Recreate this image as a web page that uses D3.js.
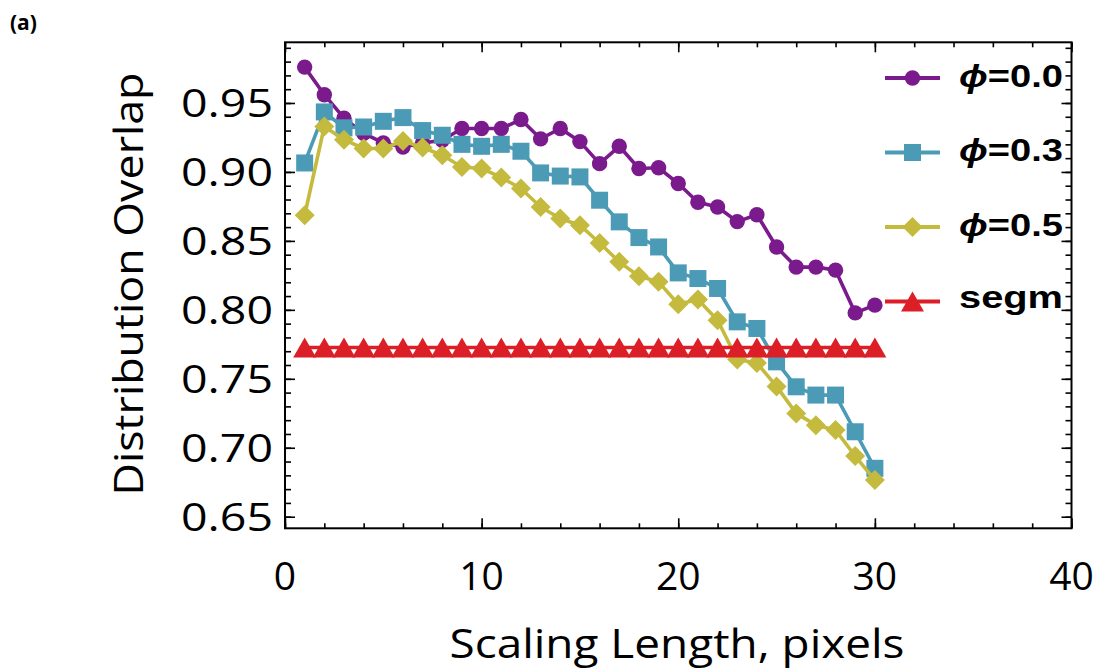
<!DOCTYPE html>
<html><head><meta charset="utf-8">
<script src="https://cdn.jsdelivr.net/npm/d3@7"></script>
<style>body{margin:0;background:#fff}</style>
</head><body><svg id="c" width="1115" height="670"></svg>
<script>
const scalingLength = [1,2,3,4,5,6,7,8,9,10,11,12,13,14,15,16,17,18,19,20,21,22,23,24,25,26,27,28,29,30];
const phi00 = [0.976,0.956,0.939,0.928,0.921,0.918,0.921,0.923,0.9315,0.9315,0.9315,0.938,0.924,0.9315,0.922,0.906,0.9186,0.9025,0.903,0.8916,0.878,0.8746,0.864,0.869,0.8456,0.831,0.831,0.8288,0.7978,0.8034];
const phi03 = [0.9065,0.9435,0.932,0.9326,0.9367,0.9394,0.930,0.9266,0.920,0.9186,0.920,0.915,0.8993,0.897,0.8964,0.8795,0.8638,0.8524,0.8456,0.8268,0.8227,0.8155,0.7913,0.7865,0.7623,0.7442,0.7382,0.7382,0.7116,0.6851];
const phi05 = [0.8686,0.933,0.9234,0.917,0.917,0.9225,0.9177,0.9121,0.9036,0.9025,0.896,0.888,0.8746,0.8662,0.8614,0.8485,0.8348,0.8244,0.8203,0.8041,0.8075,0.7925,0.764,0.7615,0.7445,0.7249,0.7164,0.7128,0.694,0.6766];
const segm = [0.7727,0.7727,0.7727,0.7727,0.7727,0.7727,0.7727,0.7727,0.7727,0.7727,0.7727,0.7727,0.7727,0.7727,0.7727,0.7727,0.7727,0.7727,0.7727,0.7727,0.7727,0.7727,0.7727,0.7727,0.7727,0.7727,0.7727,0.7727,0.7727,0.7727];
const seriesNames = ["0.0","0.3","0.5","segm"];
const xMajorTicks = [0,10,20,30,40];
const xMinorTicks = [0,2,4,6,8,10,12,14,16,18,20,22,24,26,28,30,32,34,36,38,40];
const yMajorTicks = [0.65,0.70,0.75,0.80,0.85,0.90,0.95];
const yMinorTicks = [0.65,0.66,0.67,0.68,0.69,0.70,0.71,0.72,0.73,0.74,0.75,0.76,0.77,0.78,0.79,0.80,0.81,0.82,0.83,0.84,0.85,0.86,0.87,0.88,0.89,0.90,0.91,0.92,0.93,0.94,0.95,0.96,0.97,0.98,0.99];
const yTickLabels = ["0.65","0.70","0.75","0.80","0.85","0.90","0.95"];
const xTickLabels = ["0","10","20","30","40"];

const colors = ["#7b1a8c","#4c9bb6","#c4bb3e","#dc1f26"];
const shapes = ["circle","square","diamond","triangle"];

const svg = d3.select("#c");
const L=285, R=1071.5, T=42.3, B=528.3;
const x = d3.scaleLinear().domain([0,40]).range([L,R]);
const y = d3.scaleLinear().domain([0.6416,0.994]).range([B,T]);

function markerPath(shape){
  switch(shape){
    case "circle": return d3.symbol(d3.symbolCircle, Math.PI*7.7*7.7)();
    case "square": return "M-8.5,-8.5H8.5V8.5H-8.5Z";
    case "diamond": return "M0,-10L10,0L0,10L-10,0Z";
    case "triangle": return "M0,-10L11.5,10L-11.5,10Z";
  }
}

// series
const allSeries = [phi00, phi03, phi05, segm];
const line = d3.line().x((d,i)=>x(scalingLength[i])).y(d=>y(d));
allSeries.forEach((s,k)=>{
  const g = svg.append("g");
  g.append("path").attr("d", line(s)).attr("fill","none")
   .attr("stroke", colors[k]).attr("stroke-width", 3.6).attr("stroke-linejoin","round");
  g.selectAll("path.m").data(s).join("path").attr("class","m")
   .attr("d", markerPath(shapes[k]))
   .attr("transform",(d,i)=>`translate(${x(scalingLength[i])},${y(d)})`)
   .attr("fill", colors[k]);
});

// frame
svg.append("rect").attr("x",L).attr("y",T).attr("width",R-L).attr("height",B-T)
  .attr("fill","none").attr("stroke","#000").attr("stroke-width",2);

// ticks (inward)
function addAxis(axisFn, scale, vals, size, tr){
  svg.append("g").attr("transform",tr)
    .call(axisFn(scale).tickValues(vals).tickSize(size).tickFormat(""))
    .call(g=>{g.select(".domain").remove(); g.selectAll("line").attr("stroke","#000").attr("stroke-width",1.6);});
}
addAxis(d3.axisBottom, x, xMinorTicks, -5, `translate(0,${B})`);
addAxis(d3.axisBottom, x, xMajorTicks, -10, `translate(0,${B})`);
addAxis(d3.axisTop, x, xMinorTicks, -5, `translate(0,${T})`);
addAxis(d3.axisTop, x, xMajorTicks, -10, `translate(0,${T})`);
addAxis(d3.axisLeft, y, yMinorTicks, -6, `translate(${L},0)`);
addAxis(d3.axisLeft, y, yMajorTicks, -10, `translate(${L},0)`);
addAxis(d3.axisRight, y, yMinorTicks, -6, `translate(${R},0)`);
addAxis(d3.axisRight, y, yMajorTicks, -10, `translate(${R},0)`);

// tick labels
svg.append("g").selectAll("text").data(yMajorTicks).join("text")
  .attr("x", 273).attr("y", d=>y(d)+14)
  .attr("text-anchor","end").attr("font-family","Open Sans").attr("font-size",39)
  .attr("textLength",92).attr("lengthAdjust","spacingAndGlyphs")
  .text((d,i)=>yTickLabels[i]);
svg.append("g").selectAll("text").data(xMajorTicks).join("text")
  .attr("x", d=>x(d)).attr("y", 590)
  .attr("text-anchor","middle").attr("font-family","Open Sans").attr("font-size",39)
  .text((d,i)=>xTickLabels[i]);

// axis titles
svg.append("text").attr("x",677).attr("y",658).attr("text-anchor","middle")
  .attr("font-family","Open Sans").attr("font-size",40)
  .attr("textLength",455).attr("lengthAdjust","spacingAndGlyphs")
  .text("Scaling Length, pixels");
svg.append("text").attr("transform","translate(143,284) rotate(-90)").attr("text-anchor","middle")
  .attr("font-family","Open Sans").attr("font-size",40)
  .attr("textLength",423).attr("lengthAdjust","spacingAndGlyphs")
  .text("Distribution Overlap");

svg.append("text").attr("x",10).attr("y",30).attr("font-family","Open Sans").attr("font-weight","bold")
  .attr("font-size",21).text("(a)");

// legend
const legY = [78,152.5,227,301.5];
const leg = svg.append("g");
seriesNames.forEach((nm,k)=>{
  const g = leg.append("g").attr("transform",`translate(0,${legY[k]})`);
  g.append("line").attr("x1",885).attr("x2",940).attr("stroke",colors[k]).attr("stroke-width",4);
  g.append("path").attr("d",markerPath(shapes[k])).attr("transform","translate(912.5,0)").attr("fill",colors[k]);
  const t = g.append("text").attr("x",959).attr("y",k<3?8.5:6).attr("font-family","Liberation Sans")
    .attr("font-weight","bold").attr("font-size",31)
    .attr("textLength", 104).attr("lengthAdjust","spacingAndGlyphs");
  if(k<3){
    t.append("tspan").attr("font-style","italic").text("ϕ");
    t.append("tspan").text("="+nm);
  } else t.text(nm);
});
</script></body></html>
